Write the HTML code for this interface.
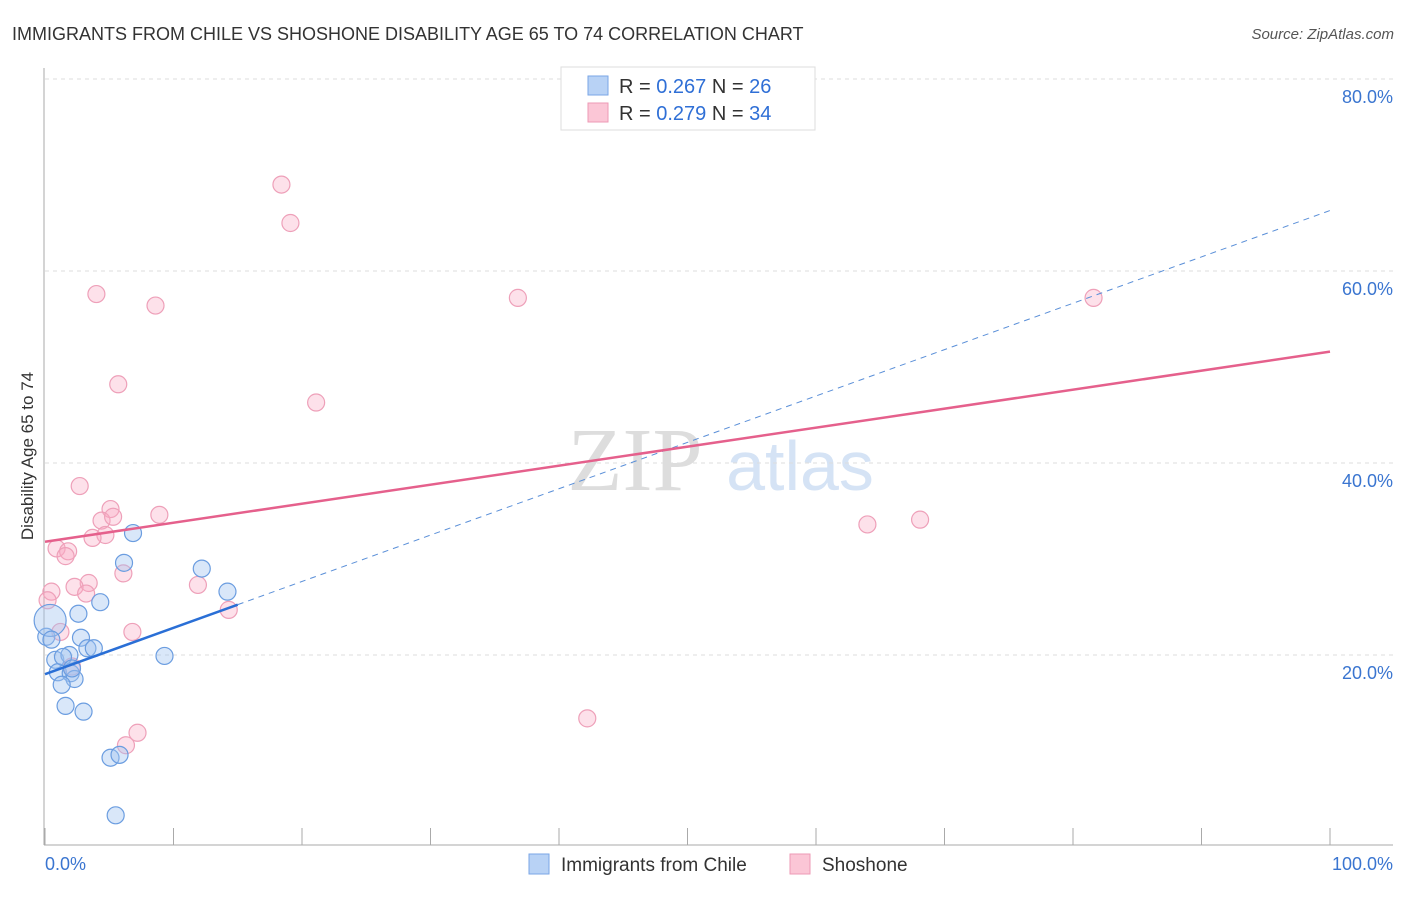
<!DOCTYPE html>
<html><head><meta charset="utf-8"><style>
body{margin:0;background:#fff;font-family:"Liberation Sans",sans-serif}
</style></head><body>
<svg id="chart" width="1406" height="892" xmlns="http://www.w3.org/2000/svg" font-family="Liberation Sans, sans-serif">
<text x="12" y="40" font-size="18" fill="#333">IMMIGRANTS FROM CHILE VS SHOSHONE DISABILITY AGE 65 TO 74 CORRELATION CHART</text>
<text x="1394" y="39" font-size="15" fill="#555" text-anchor="end" font-style="italic">Source: ZipAtlas.com</text>
<g><text x="635" y="490" font-size="90" fill="#ddd" font-family="Liberation Serif, serif" text-anchor="middle">ZIP</text><text x="800" y="490" font-size="70" fill="#d5e3f5" text-anchor="middle">atlas</text></g>
<g id="grid"></g><g id="axes"></g><g id="marks"></g>
<text transform="translate(33,456) rotate(-90)" font-size="17" fill="#333" text-anchor="middle">Disability Age 65 to 74</text>
<g>
<rect x="561" y="67" width="254" height="63" fill="#fff" stroke="#ddd"/>
<rect x="588" y="76" width="20" height="19" fill="#b8d2f5" stroke="#7aa6e6"/>
<rect x="588" y="103" width="20" height="19" fill="#fbc6d6" stroke="#ee9ab5"/>
<text x="619" y="93" font-size="20" fill="#333">R = <tspan fill="#2f6fd6">0.267</tspan>   N = <tspan fill="#2f6fd6">26</tspan></text>
<text x="619" y="120" font-size="20" fill="#333">R = <tspan fill="#2f6fd6">0.279</tspan>   N = <tspan fill="#2f6fd6">34</tspan></text>
</g>
<g>
<rect x="529" y="854" width="20" height="20" fill="#b8d2f5" stroke="#7aa6e6"/>
<text x="561" y="871" font-size="19" fill="#333">Immigrants from Chile</text>
<rect x="790" y="854" width="20" height="20" fill="#fbc6d6" stroke="#ee9ab5"/>
<text x="822" y="871" font-size="19" fill="#333">Shoshone</text>
</g>
</svg>
<script>
const yTicks=[20,40,60,80];
const yTickLabels=["20.0%","40.0%","60.0%","80.0%"];
const chileX=[6.85,6.15,12.2,14.2,4.3,2.6,2.8,0.1,3.3,3.8,0.8,1.9,9.3,1.0,2.0,2.3,1.3,1.6,3.0,5.1,5.8,5.5,0.4,0.5,1.4,2.1];
const chileY=[32.7,29.6,29.0,26.6,25.5,24.3,21.8,21.9,20.7,20.7,19.5,20.0,19.9,18.2,18.1,17.5,16.9,14.7,14.1,9.3,9.6,3.3,23.6,21.6,19.8,18.6];
const shoX=[18.4,19.1,4.0,8.6,36.8,81.6,5.7,21.1,2.7,5.1,8.9,4.4,5.3,4.7,3.7,0.9,1.8,1.6,64.0,68.1,6.1,11.9,3.4,2.3,3.2,0.5,0.2,14.3,6.8,1.2,42.2,7.2,6.3,2.1];
const shoY=[69.0,65.0,57.6,56.4,57.2,57.2,48.2,46.3,37.6,35.2,34.6,34.0,34.4,32.5,32.2,31.1,30.8,30.3,33.6,34.1,28.5,27.3,27.5,27.1,26.4,26.6,25.7,24.7,22.4,22.4,13.4,11.9,10.6,18.8];
const chileTrend=[18.0,66.3];
const shoTrend=[31.8,51.6];
const chileSolidEnd=15;
const NS="http://www.w3.org/2000/svg";
const sx=v=>45+v*12.85, sy=v=>847-v*9.6;
function mk(p,t,a){const e=document.createElementNS(NS,t);for(const k in a)e.setAttribute(k,a[k]);p.appendChild(e);return e;}
const grid=document.getElementById('grid'),axes=document.getElementById('axes'),marks=document.getElementById('marks');
yTicks.forEach((t,i)=>{
 const l=mk(grid,'line',{x1:45,x2:1393,y1:sy(t),y2:sy(t),stroke:'#ddd','stroke-dasharray':'4,4'});
 
 
 const tx=mk(grid,'text',{x:1393,y:sy(t)+24,'font-size':18,fill:'#3a75d0','text-anchor':'end'});
 tx.textContent=yTickLabels[i];
 
 
});
mk(axes,'line',{x1:44,x2:44,y1:68,y2:845,stroke:'#aaa'});
mk(axes,'line',{x1:44,x2:1393,y1:845,y2:845,stroke:'#aaa'});
for(let i=0;i<=10;i++){mk(axes,'line',{x1:sx(i*10),x2:sx(i*10),y1:828,y2:845,stroke:'#aaa'});}
let t0=mk(axes,'text',{x:45,y:870,'font-size':18,fill:'#3a75d0'});t0.textContent='0.0%';

let t1=mk(axes,'text',{x:1393,y:870,'font-size':18,fill:'#3a75d0','text-anchor':'end'});t1.textContent='100.0%';

shoX.forEach((x,i)=>{const c=mk(marks,'circle',{cx:sx(x),cy:sy(shoY[i]),r:8.5,fill:'rgba(248,170,195,0.35)',stroke:'#eea0b9','stroke-width':1.2});
 });
chileX.forEach((x,i)=>{const c=mk(marks,'circle',{cx:sx(x),cy:sy(chileY[i]),r:i==22?16:8.5,fill:'rgba(160,195,240,0.4)',stroke:'#6b9de0','stroke-width':1.2});
 });
const cy=x=>chileTrend[0]+(chileTrend[1]-chileTrend[0])*x/100;
let d=mk(marks,'line',{x1:sx(chileSolidEnd),y1:sy(cy(chileSolidEnd)),x2:sx(100),y2:sy(cy(100)),stroke:'#5a8fd8','stroke-dasharray':'6,5','stroke-width':1});

let s=mk(marks,'line',{x1:sx(0),y1:sy(cy(0)),x2:sx(chileSolidEnd),y2:sy(cy(chileSolidEnd)),stroke:'#2a6fd6','stroke-width':2.5});

let p=mk(marks,'line',{x1:sx(0),y1:sy(shoTrend[0]),x2:sx(100),y2:sy(shoTrend[1]),stroke:'#e5608c','stroke-width':2.5});

</script>
</body></html>
